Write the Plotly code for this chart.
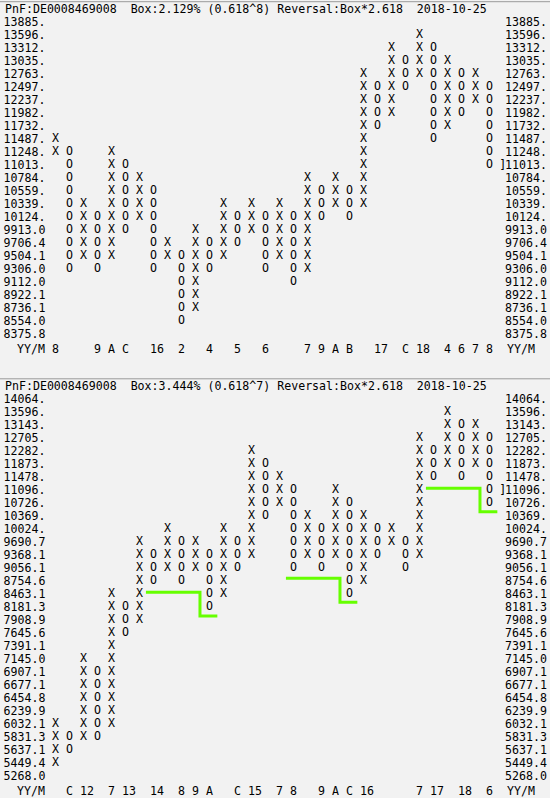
import math
import plotly.graph_objects as go

# ---- top chart: box 2.129 % ----
top_prices = [13885, 13596, 13312, 13035, 12763, 12497, 12237, 11982, 11732,
              11487, 11248, 11013, 10784, 10559, 10339, 10124, 9913.0, 9706.4,
              9504.1, 9306.0, 9112.0, 8922.1, 8736.1, 8554.0, 8375.8]
top_high = [11487, 11248, 10339, 10124, 11248, 11013, 10784, 10559, 9706.4, 9504.1,
            9913.0, 9706.4, 10339, 10124, 10339, 10124, 10339, 10124, 10784, 10559,
            10784, 10559, 12763, 12497, 13312, 13035, 13596, 13312, 13035, 12763,
            12763, 12497]
top_low = [11248, 9306.0, 9504.1, 9306.0, 9504.1, 9913.0, 10124, 9306.0, 9504.1, 8554.0,
           8736.1, 9306.0, 9504.1, 9706.4, 9913.0, 9306.0, 9504.1, 9112.0, 9306.0, 10124,
           10339, 10124, 10339, 11732, 11982, 12497, 12763, 11487, 11732, 11982,
           12237, 11013]
top_month_cols = [0, 3, 4, 5, 7, 9, 11, 13, 15, 18, 19, 20, 21, 23, 25, 26, 28, 29, 30, 31]
top_month_text = ["8", "9", "A", "C", "16", "2", "4", "5", "6", "7", "9", "A", "B",
                  "17", "C", "18", "4", "6", "7", "8"]
top_last = 11013
top_title = "PnF:DE0008469008  Box:2.129% (0.618^8) Reversal:Box*2.618  2018-10-25"

# ---- bottom chart: box 3.444 % ----
bot_prices = [14064, 13596, 13143, 12705, 12282, 11873, 11478, 11096, 10726, 10369,
              10024, 9690.7, 9368.1, 9056.1, 8754.6, 8463.1, 8181.3, 7908.9, 7645.6,
              7391.1, 7145.0, 6907.1, 6677.1, 6454.8, 6239.9, 6032.1, 5831.3, 5637.1,
              5449.4, 5268.0]
bot_high = [6032.1, 5831.3, 7145.0, 6907.1, 8463.1, 8181.3, 9690.7, 9368.1, 10024, 9690.7,
            9690.7, 9368.1, 10024, 9690.7, 12282, 11873, 11478, 11096, 10369, 10024,
            11096, 10726, 10369, 10024, 10024, 9690.7, 12705, 12282, 13596, 13143,
            13143, 12705]
bot_low = [5449.4, 5637.1, 5831.3, 5831.3, 6032.1, 7645.6, 7908.9, 8754.6, 9056.1, 8754.6,
           9056.1, 8181.3, 8463.1, 9056.1, 9368.1, 10369, 10726, 9056.1, 9368.1, 9056.1,
           9368.1, 8463.1, 8754.6, 9368.1, 9690.7, 9056.1, 9368.1, 11478, 11873, 11478,
           11873, 10726]
bot_month_cols = [1, 2, 4, 5, 7, 9, 10, 11, 13, 14, 16, 17, 19, 20, 21, 22, 26, 27, 29, 31]
bot_month_text = ["C", "12", "7", "13", "14", "8", "9", "A", "C", "15", "7", "8", "9",
                  "A", "C", "16", "7", "17", "18", "6"]
bot_last = 11096
bot_title = "PnF:DE0008469008  Box:3.444% (0.618^7) Reversal:Box*2.618  2018-10-25"

# green step lines: (from X column, to O column, upper level, lower level)
stop_from_col = [6, 16, 26]
stop_to_col = [11, 21, 31]
stop_upper = [8500, 8810, 11140]
stop_lower = [7990, 8280, 10480]

# ---- page geometry (monospace text grid) ----
W, H = 550, 798
CH, LINE, LEFT = 7.0, 13.0, 3.0
BG = "#f2f2f2"
MONO = dict(family="DejaVu Sans Mono", size=11.6, color="#000000")


def px_to_col(px):
    return ((px - LEFT) / CH - 7.5) / 2


XRANGE = [px_to_col(0), px_to_col(W)]


def price_label(p):
    return f"{p:.0f}." if p >= 10000 else f"{p:.1f}"


def y_range(prices, first_px, d0, d1):
    step = (math.log10(prices[0]) - math.log10(prices[-1])) / (len(prices) - 1)
    top = math.log10(prices[0]) + (first_px - d0) / LINE * step
    bot = math.log10(prices[0]) - (d1 - first_px) / LINE * step
    return [bot, top]


def marks(prices, high, low):
    xs, ys, txt = [], [], []
    for c, (hi, lo) in enumerate(zip(high, low)):
        kind = "X" if c % 2 == 0 else "O"
        for i in range(prices.index(hi), prices.index(lo) + 1):
            xs.append(c)
            ys.append(prices[i])
            txt.append(kind)
    return xs, ys, txt


def month_ticks(cols, texts):
    vals = [c + (len(t) - 1) / 4 for c, t in zip(cols, texts)]
    vals = [px_to_col(LEFT + CH * 4)] + vals + [px_to_col(LEFT + CH * 74)]
    return vals, ["YY/M"] + texts + ["YY/M"]


fig = go.Figure()

panels = [
    # prices, high, low, months, last, title, first row px, domain px, axes
    (top_prices, top_high, top_low, (top_month_cols, top_month_text), top_last,
     top_title, 21.7, (15.2, 340.2), ("x", "y", "y2")),
    (bot_prices, bot_high, bot_low, (bot_month_cols, bot_month_text), bot_last,
     bot_title, 398.8, (392.3, 782.3), ("x2", "y3", "y4")),
]

for n, (prices, high, low, months, last, title, first_px, dom, axes) in enumerate(panels):
    xa, ya, ya_r = axes
    xs, ys, txt = marks(prices, high, low)
    fig.add_trace(go.Scatter(x=xs, y=ys, text=txt, mode="text", textfont=MONO,
                             xaxis=xa, yaxis=ya, hoverinfo="skip", showlegend=False))
    # last price pointer, sits next to the right-hand price scale
    fig.add_trace(go.Scatter(x=[len(high) - 0.05], y=[last], text=["]"], mode="text",
                             textfont=MONO, xaxis=xa, yaxis=ya_r, hoverinfo="skip",
                             showlegend=False))

    yr = y_range(prices, first_px, *dom)
    domain = [1 - dom[1] / H, 1 - dom[0] / H]
    labels = [price_label(p) for p in prices]
    vals, texts = month_ticks(*months)
    sfx = "" if n == 0 else "2"
    fig.update_layout(**{
        "xaxis" + sfx: dict(domain=[0, 1], range=XRANGE, anchor=ya, tickmode="array",
                            tickvals=vals, ticktext=texts, tickangle=0, ticks="",
                            showgrid=False, zeroline=False, showline=False,
                            tickfont=MONO, fixedrange=True),
        "yaxis" + ya[1:]: dict(type="log", domain=domain, range=yr, anchor="free",
                               position=45.5 / W, side="left", tickmode="array",
                               tickvals=prices, ticktext=labels, ticks="",
                               showgrid=False, zeroline=False, showline=False,
                               tickfont=MONO, fixedrange=True),
        "yaxis" + ya_r[1:]: dict(type="log", domain=domain, range=yr, anchor="free",
                                 overlaying=ya, position=504 / W, side="right",
                                 tickmode="array", tickvals=prices, ticktext=labels,
                                 ticks="", showgrid=False, zeroline=False,
                                 showline=False, tickfont=MONO, fixedrange=True),
    })

    title_px = first_px - LINE
    fig.add_annotation(x=LEFT / W, y=1 - title_px / H, xref="paper", yref="paper",
                       xanchor="left", yanchor="middle", showarrow=False,
                       text=title.replace("  ", "\u00a0\u00a0"), font=MONO)
    fig.add_shape(type="line", xref="paper", yref="paper", x0=0, x1=1,
                  y0=1 - (title_px - 7) / H, y1=1 - (title_px - 7) / H,
                  line=dict(color="#9a9a9a", width=1))

# stop lines on the lower chart
for c0, c1, up, lo in zip(stop_from_col, stop_to_col, stop_upper, stop_lower):
    fig.add_trace(go.Scatter(x=[c0 + 0.46, c1 - 0.68, c1 + 0.56], y=[up, lo, lo],
                             mode="lines", line=dict(color="#66ff00", width=3, shape="hv"),
                             xaxis="x2", yaxis="y3", hoverinfo="skip", showlegend=False))

fig.update_layout(width=W, height=H, margin=dict(l=0, r=0, t=0, b=0),
                  paper_bgcolor=BG, plot_bgcolor=BG, showlegend=False)

fig.write_html("out.html", config={"displayModeBar": False},
               post_script="document.body.style.margin='0';"
                           "document.body.style.overflow='hidden';")
